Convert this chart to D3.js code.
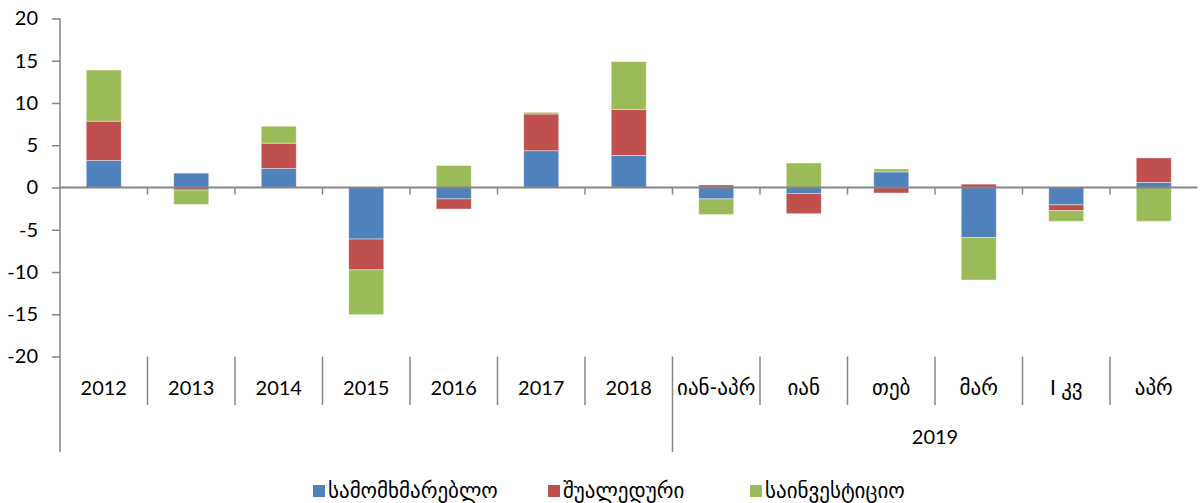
<!DOCTYPE html>
<html>
<head>
<meta charset="utf-8">
<script src="https://cdn.jsdelivr.net/npm/d3@7"></script>
<style>
  body { margin: 0; background: #fff; }
  text { font-family: Lato, "DejaVu Sans", sans-serif; fill: #000; }
  .geo { font-family: Lato, "DejaVu Sans ExtraLight", "DejaVu Sans", sans-serif; }
</style>
</head>
<body>
<div id="chart"></div>
<script>
// categories on the x axis (last six belong to 2019)
const categories = ["2012", "2013", "2014", "2015", "2016", "2017", "2018",
  "იან-აპრ", "იან", "თებ", "მარ", "I კვ", "აპრ"];
const groupLabel = "2019";
const groupStart = 7;

const seriesNames = ["სამომხმარებლო", "შუალედური", "საინვესტიციო"];
const consumer     = [3.2, 1.7, 2.25, -6.1, -1.35, 4.35, 3.8, -1.35, -0.7, 1.85, -5.9, -2.05, 0.6];
const intermediate = [4.65, -0.3, 3.0, -3.65, -1.2, 4.35, 5.45, 0.3, -2.4, -0.65, 0.4, -0.7, 2.9];
const investment   = [6.05, -1.7, 2.0, -5.3, 2.6, 0.2, 5.65, -1.85, 2.9, 0.35, -5.05, -1.25, -4.0];
const yTicks = [-20, -15, -10, -5, 0, 5, 10, 15, 20];
const colors = ["#4F81BD", "#C0504D", "#9BBB59"];

const svgWidth = 1204;
const svgHeight = 503;
const axisColor = "#868686";

const svg = d3.select("#chart")
  .append("svg")
  .attr("width", svgWidth)
  .attr("height", svgHeight);

const plotLeft = 60, plotRight = 1197.5, plotTop = 18.5, plotBottom = 356.5;

const x = d3.scaleBand()
  .domain(categories)
  .range([plotLeft, plotRight])
  .padding(0);

const y = d3.scaleLinear()
  .domain([-20, 20])
  .range([plotBottom, plotTop]);

const table = categories.map((c, i) => ({
  cat: c, s0: consumer[i], s1: intermediate[i], s2: investment[i]
}));

const stack = d3.stack()
  .keys(["s0", "s1", "s2"])
  .offset(d3.stackOffsetDiverging);
const layers = stack(table);

const step = x.bandwidth();
const barW = step * 0.4;

// bars
svg.append("g")
  .selectAll("g")
  .data(layers)
  .enter()
  .append("g")
  .attr("fill", (d, i) => colors[i])
  .selectAll("rect")
  .data(d => d)
  .enter()
  .append("rect")
  .attr("x", d => x(d.data.cat) + (step - barW) / 2)
  .attr("width", barW)
  .attr("y", d => y(Math.max(d[0], d[1])))
  .attr("height", d => Math.abs(y(d[0]) - y(d[1])))
  .attr("stroke", "#fff")
  .attr("stroke-opacity", 0.5)
  .attr("stroke-width", 0.8);

// y axis
const yAxis = svg.append("g")
  .attr("transform", `translate(${plotLeft}, 0)`)
  .call(d3.axisLeft(y).tickValues(yTicks).tickFormat(d => String(d))
    .tickSize(8).tickPadding(14).tickSizeOuter(0));
yAxis.select(".domain").remove();
yAxis.selectAll("line").attr("stroke", axisColor).attr("stroke-width", 1.5);
yAxis.selectAll("text").style("font-size", "20px").attr("fill", "#000");

// vertical axis line, continues into the label area
svg.append("line")
  .attr("x1", plotLeft).attr("x2", plotLeft)
  .attr("y1", plotTop).attr("y2", 452)
  .attr("stroke", axisColor).attr("stroke-width", 1.5);

// horizontal axis at zero with ticks at category boundaries
svg.append("line")
  .attr("x1", plotLeft).attr("x2", plotRight)
  .attr("y1", y(0)).attr("y2", y(0))
  .attr("stroke", axisColor).attr("stroke-width", 2);

svg.append("g")
  .selectAll("line")
  .data(categories.slice(1))
  .enter()
  .append("line")
  .attr("x1", d => x(d)).attr("x2", d => x(d))
  .attr("y1", y(0)).attr("y2", y(0) + 7)
  .attr("stroke", axisColor).attr("stroke-width", 1.5);

// category separators in label area
svg.append("g")
  .selectAll("line")
  .data(categories.slice(1))
  .enter()
  .append("line")
  .attr("x1", d => x(d)).attr("x2", d => x(d))
  .attr("y1", plotBottom).attr("y2", (d, i) => i + 1 === groupStart ? 452 : 405)
  .attr("stroke", axisColor).attr("stroke-width", 1.5);

// category labels
svg.append("g")
  .selectAll("text")
  .data(categories)
  .enter()
  .append("text")
  .attr("class", (d, i) => i >= groupStart ? "geo" : null)
  .attr("x", d => x(d) + step / 2)
  .attr("y", 395)
  .attr("text-anchor", "middle")
  .style("font-size", (d, i) => i >= groupStart ? "21px" : "20px")
  .text(d => d);

// group label
const gx0 = x(categories[groupStart]);
svg.append("text")
  .attr("x", (gx0 + plotRight) / 2)
  .attr("y", 444)
  .attr("text-anchor", "middle")
  .style("font-size", "20px")
  .text(groupLabel);

// legend
const legendX = [313, 548, 750];
const legend = svg.append("g")
  .selectAll("g")
  .data(seriesNames)
  .enter()
  .append("g")
  .attr("transform", (d, i) => `translate(${legendX[i]}, 485)`);

legend.append("rect")
  .attr("width", 12).attr("height", 12)
  .attr("fill", (d, i) => colors[i]);

legend.append("text")
  .attr("class", "geo")
  .attr("x", 15)
  .attr("y", 13)
  .style("font-size", "21px")
  .text(d => d);
</script>
</body>
</html>
